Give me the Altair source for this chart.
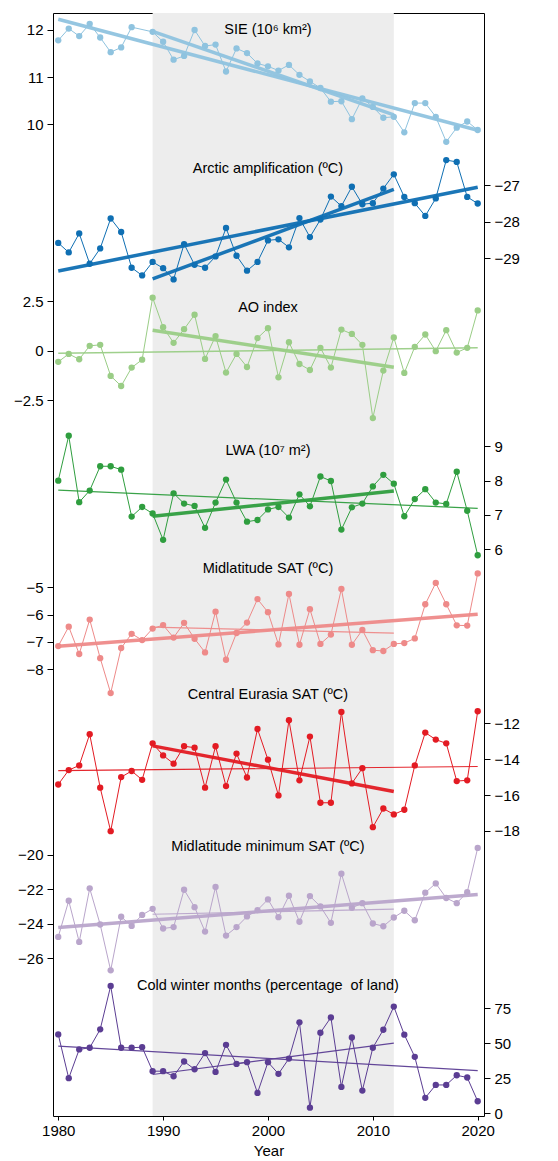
import altair as alt
import pandas as pd

years = list(range(1980, 2021))

sie = [11.78, 12.03, 11.87, 12.13, 11.84, 11.53, 11.63, 12.06, None, 11.96,
       11.75, 11.37, 11.45, 12.0, 11.66, 11.69, 11.12, 11.61, 11.51, 11.29,
       11.23, 11.14, 11.26, 11.05, 10.91, 10.77, 10.48, 10.49, 10.11, 10.55,
       10.37, 10.14, 10.16, 9.83, 10.45, 10.45, 10.16, 9.63, 9.93, 10.06,
       9.88]
arctic_amp = [-28.58, -28.84, -28.32, -29.15, -28.73, -27.91, -28.28, -29.26, -29.47, -29.10,
              -29.27, -29.58, -28.61, -29.18, -29.26, -28.95, -28.17, -28.93, -29.34, -29.10,
              -28.51, -28.48, -28.70, -27.90, -28.42, -27.94, -27.31, -27.57, -27.04, -27.52,
              -27.49, -27.09, -26.70, -27.32, -27.49, -27.84, -27.36, -26.31, -26.36, -27.32,
              -27.50]
ao_index = [-0.57, -0.17, -0.44, 0.24, 0.29, -1.28, -1.79, -0.86, -0.46, 2.67,
            1.18, 0.39, 1.08, 1.81, -0.42, 0.73, -1.11, -0.17, -0.83, 0.63,
            1.13, -1.35, 0.42, -0.68, -0.98, 0.14, -0.86, 1.06, 0.84, 0.29,
            -3.41, -1.01, 0.66, -1.13, 0.19, 0.81, -0.03, 1.03, -0.10, 0.14,
            2.03]
lwa = [8.0, 9.31, 7.37, 7.71, 8.42, 8.42, 8.32, 6.95, 7.23, 7.04,
       6.27, 7.63, 7.33, 7.26, 6.62, 7.36, 8.03, 7.36, 6.80, 6.85,
       7.16, 7.23, 6.92, 7.60, 7.25, 8.12, 7.99, 6.57, 7.22, 7.33,
       7.83, 8.17, 7.91, 6.96, 7.46, 7.75, 7.36, 7.32, 8.26, 7.12,
       5.82]
midlat_sat = [-7.15, -6.44, -7.44, -6.18, -7.59, -8.87, -7.22, -6.70, -6.93, -6.51,
              -6.38, -6.84, -6.30, -6.88, -7.38, -5.89, -7.65, -6.67, -6.29, -5.43,
              -5.91, -7.09, -5.24, -7.10, -5.80, -7.07, -6.73, -5.06, -7.10, -6.56,
              -7.30, -7.33, -7.07, -7.04, -6.87, -5.62, -4.84, -5.62, -6.39, -6.40,
              -4.49]
eurasia_sat = [-15.41, -14.61, -14.35, -12.61, -15.59, -18.01, -15.00, -14.66, -15.15, -13.12,
               -13.79, -14.25, -13.28, -13.36, -15.59, -13.28, -15.50, -13.69, -15.02, -12.32,
               -14.03, -16.02, -11.83, -15.18, -12.74, -16.43, -16.43, -11.37, -15.35, -14.50,
               -17.79, -16.75, -17.08, -16.82, -14.35, -12.52, -12.91, -13.12, -15.22, -15.18,
               -11.33]
midlat_min_sat = [-24.76, -22.66, -25.05, -21.94, -24.04, -26.70, -23.59, -24.12, -23.48, -23.13,
                  -24.27, -24.19, -22.02, -23.03, -24.45, -21.86, -24.68, -24.19, -23.57, -23.20,
                  -22.58, -23.61, -22.37, -23.88, -22.39, -22.99, -23.94, -21.09, -23.07, -22.80,
                  -23.98, -24.14, -23.63, -23.24, -23.79, -22.19, -21.65, -22.50, -22.80, -22.16,
                  -19.59]
cold_months = [56.2, 25.0, 45.5, 46.7, 59.8, 90.7, 46.7, 46.7, 47.1, 30.0,
               30.0, 26.4, 36.9, 31.4, 42.9, 29.5, 48.8, 35.2, 36.4, 14.5,
               36.4, 28.1, 39.0, 64.8, 4.0, 57.4, 68.3, 18.8, 54.0, 16.2,
               46.7, 59.5, 76.0, 56.0, 40.2, 11.0, 20.2, 20.2, 27.1, 25.5,
               8.6]

labels = ["SIE (10\u2076 km\u00b2)", "Arctic amplification (\u00baC)", "AO index",
          "LWA (10\u2077 m\u00b2)", "Midlatitude SAT (\u00baC)", "Central Eurasia SAT (\u00baC)",
          "Midlatitude minimum SAT (\u00baC)", "Cold winter months (percentage\u00a0 of land)"]
axis_ticks = [[10, 11, 12], [-29, -28, -27], [-2.5, 0, 2.5], [6, 7, 8, 9],
              [-8, -7, -6, -5], [-18, -16, -14, -12], [-26, -24, -22, -20], [0, 25, 50, 75]]
year_ticks = [1980, 1990, 2000, 2010, 2020]
period = [1989, 2012]

# layout / style (not data)
W, H = 431, 1103
FONT = "Liberation Sans"
series_style = [
    # values, color, domain, orient, full width, sub width, label anchor (year, value)
    (sie, "#8fc3df", [-11.02, 12.36], "left", 3.5, 3.5, (2000, 12.0)),
    (arctic_amp, "#0f6fb3", [-52.5, -22.28], "right", 3.5, 3.5, (2000, -26.55)),
    (ao_index, "#9acd86", [-38.66, 17.05], "left", 1.5, 3.5, (2000, 2.16)),
    (lwa, "#2f9e3f", [-10.56, 21.66], "right", 1.2, 3.5, (2000, 8.88)),
    (midlat_sat, "#ee8a89", [-24.34, 16.01], "left", 3.5, 1.2, (2000, -4.34)),
    (eurasia_sat, "#e31b23", [-33.88, 27.57], "right", 1.2, 3.5, (2000, -10.42)),
    (midlat_min_sat, "#b9a5cb", [-35.16, 28.9], "left", 3.5, 1.2, (2000, -19.51)),
    (cold_months, "#5b3d93", [-1.92, 783.7], "right", 1.2, 1.2, (2000, 90.5)),
]

MINUS = "replace(datum.label, '-', '\u2212')"

xscale = alt.Scale(domain=[1979.5, 2020.6], nice=False, zero=False)
x_axis_spec = alt.Axis(values=year_ticks, format="d", title="Year", orient="bottom",
                       grid=False, domain=False, ticks=True, tickSize=4, tickColor="black",
                       labelPadding=3, titlePadding=5, titleFontWeight="normal",
                       titleFontSize=15, labelFontSize=15, labelFont=FONT,
                       titleFont=FONT, labelColor="black", titleColor="black")
X = alt.X("year:Q", scale=xscale, title="Year", axis=x_axis_spec)

shade = alt.Chart(pd.DataFrame({"year": [period[0]], "end": [period[1]]})).mark_rect(
    color="#ededed"
).encode(x=X, x2="end:Q", y=alt.value(0), y2=alt.value(H))

layers = [shade]
for i, (vals, color, dom, orient, wfull, wsub, (lx, ly)) in enumerate(series_style):
    df = pd.DataFrame({"year": years, "v": vals}).dropna()
    ys = alt.Scale(domain=dom, nice=False, zero=False)
    y_axis = alt.Y("v:Q", scale=ys, title=None,
                   axis=alt.Axis(orient=orient, values=axis_ticks[i], format=".1~f",
                                 labelExpr=MINUS, grid=False,
                                 domain=False, ticks=True, tickSize=6, tickColor="black",
                                 labelPadding=4, labelFontSize=15, labelFont=FONT,
                                 labelColor="black", title=None))
    y_plain = alt.Y("v:Q", scale=ys, title=None,
                    axis=alt.Axis(orient=orient, labels=False, ticks=False, domain=False,
                                  grid=False, title=None))
    base = alt.Chart(df)
    line = base.mark_line(color=color, strokeWidth=1).encode(x=X, y=y_axis)
    pts = base.mark_circle(color=color, size=40, opacity=1).encode(x=X, y=y_plain)
    full = base.transform_regression("year", "v", extent=[1980, 2020]).mark_line(
        color=color, strokeWidth=wfull, opacity=0.95).encode(x=X, y=y_plain)
    sub = base.transform_filter(
        f"datum.year >= {period[0]} && datum.year <= {period[1]}"
    ).transform_regression("year", "v", extent=period).mark_line(
        color=color, strokeWidth=wsub, opacity=0.95).encode(x=X, y=y_plain)
    txt = alt.Chart(pd.DataFrame({"year": [lx], "v": [ly], "label": [labels[i]]})).mark_text(
        font=FONT, fontSize=14.5, color="black", align="center", baseline="middle"
    ).encode(x=X, y=y_plain, text="label:N")
    layers += [line, pts, full, sub, txt]

chart = alt.layer(*layers).resolve_scale(y="independent").resolve_axis(
    y="independent"
).properties(
    width=W, height=H,
    padding={"left": 5, "top": 4, "right": 5, "bottom": 2},
).configure_view(stroke="black", strokeWidth=1)

chart.save("out.html", embed_options={"renderer": "svg", "actions": False})
